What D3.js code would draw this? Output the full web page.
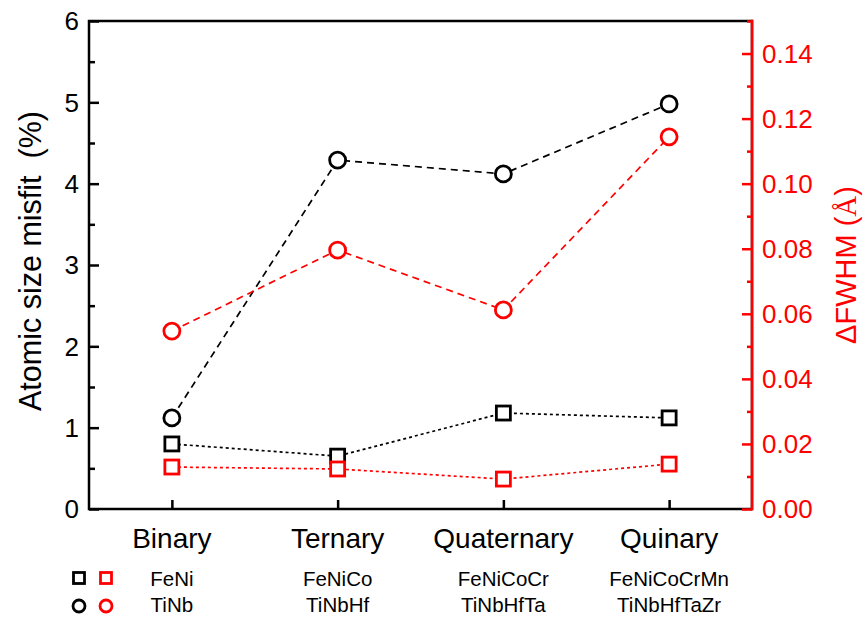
<!DOCTYPE html>
<html>
<head>
<meta charset="utf-8">
<script src="https://cdn.jsdelivr.net/npm/d3@7"></script>
<style>
  body { margin: 0; background: #fff; }
  svg { display: block; font-family: Arial, "Liberation Sans", sans-serif; }
</style>
</head>
<body>
<svg id="chart" width="867" height="619"></svg>
<script>
// Alloy families, from binary to quinary
const categories = ["Binary", "Ternary", "Quaternary", "Quinary"];
const feniAlloys = ["FeNi", "FeNiCo", "FeNiCoCr", "FeNiCoCrMn"];
const tinbAlloys = ["TiNb", "TiNbHf", "TiNbHfTa", "TiNbHfTaZr"];

// Atomic size misfit (%)
const misfitFeNi = [0.80, 0.65, 1.18, 1.12];
const misfitTiNb = [1.12, 4.29, 4.12, 4.98];

// ΔFWHM (Å)
const fwhmFeNi = [0.0129, 0.0123, 0.0092, 0.0138];
const fwhmTiNb = [0.0547, 0.0796, 0.0612, 0.1144];

const leftTicks = [0, 1, 2, 3, 4, 5, 6];
const rightTicks = [0, 0.02, 0.04, 0.06, 0.08, 0.10, 0.12, 0.14];

const RED = "#ff0000";
const svg = d3.select("#chart");
const plot = { left: 89, right: 752, top: 21, bottom: 509 };

const x = d3.scaleLinear().domain([0.5, 4.5]).range([plot.left, plot.right]);
const yL = d3.scaleLinear().domain([0, 6]).range([plot.bottom, plot.top]);
const yR = d3.scaleLinear().domain([0, 0.15]).range([plot.bottom, plot.top]);

// Frame
svg.append("rect")
  .attr("x", plot.left).attr("y", plot.top)
  .attr("width", plot.right - plot.left).attr("height", plot.bottom - plot.top)
  .attr("fill", "none").attr("stroke", "#000").attr("stroke-width", 2.5);

// Left axis: majors every 1, minors every 0.5, ticks pointing inward
const gL = svg.append("g").attr("transform", `translate(${plot.left},0)`);
gL.call(d3.axisRight(yL).tickValues(d3.range(0.5, 6, 1)).tickSize(6).tickFormat(""));
gL.call(g => g.append("g").call(d3.axisRight(yL).tickValues(leftTicks).tickSize(10).tickFormat("")));
gL.selectAll(".domain").remove();
gL.selectAll("line").attr("stroke", "#000").attr("stroke-width", 2.5);
svg.append("g").selectAll("text").data(leftTicks).join("text")
  .attr("x", plot.left - 10).attr("y", d => yL(d)).attr("dy", "0.36em")
  .attr("text-anchor", "end").attr("font-size", 26).attr("fill", "#000")
  .text(d => d);

// Bottom axis: a tick at each category
const gB = svg.append("g").attr("transform", `translate(0,${plot.bottom})`);
gB.call(d3.axisTop(x).tickValues([1, 2, 3, 4]).tickSize(9).tickFormat(""));
gB.selectAll(".domain").remove();
gB.selectAll("line").attr("stroke", "#000").attr("stroke-width", 2.5);

// Right axis (red): majors every 0.02, minors every 0.01
svg.append("line")
  .attr("x1", plot.right).attr("x2", plot.right)
  .attr("y1", plot.top - 1.25).attr("y2", plot.bottom + 1.25)
  .attr("stroke", RED).attr("stroke-width", 2.5);
const gR = svg.append("g").attr("transform", `translate(${plot.right},0)`);
gR.call(d3.axisLeft(yR).tickValues(d3.range(0.01, 0.155, 0.02)).tickSize(5).tickFormat(""));
gR.call(g => g.append("g").call(d3.axisLeft(yR).tickValues(rightTicks).tickSize(10).tickFormat("")));
gR.selectAll(".domain").remove();
gR.selectAll("line").attr("stroke", RED).attr("stroke-width", 2.5);
svg.append("g").selectAll("text").data(rightTicks).join("text")
  .attr("x", plot.right + 10).attr("y", d => yR(d)).attr("dy", "0.36em")
  .attr("text-anchor", "start").attr("font-size", 26).attr("fill", RED)
  .text(d => d3.format(".2f")(d));

// Axis titles
svg.append("text")
  .attr("transform", `translate(41,${(plot.top + plot.bottom) / 2 - 4}) rotate(-90)`)
  .attr("text-anchor", "middle").attr("font-size", 30.5).attr("fill", "#000")
  .attr("xml:space", "preserve")
  .text("Atomic size misfit  (%)");
const rTitle = svg.append("text")
  .attr("transform", `translate(856,${(plot.top + plot.bottom) / 2}) rotate(-90)`)
  .attr("text-anchor", "middle").attr("font-size", 29).attr("fill", RED);
rTitle.append("tspan").text("ΔFWHM (");
rTitle.append("tspan").attr("font-family", "'Liberation Serif', 'DejaVu Serif', serif").text("Å");
rTitle.append("tspan").text(")");

// Category labels and alloy names
const idx = d3.range(categories.length);
svg.append("g").selectAll("text").data(idx).join("text")
  .attr("x", i => x(i + 1)).attr("y", 548)
  .attr("text-anchor", "middle").attr("font-size", 28).attr("fill", "#000")
  .text(i => categories[i]);
svg.append("g").selectAll("text").data(idx).join("text")
  .attr("x", i => x(i + 1)).attr("y", 586)
  .attr("text-anchor", "middle").attr("font-size", 20.5).attr("fill", "#000")
  .text(i => feniAlloys[i]);
svg.append("g").selectAll("text").data(idx).join("text")
  .attr("x", i => x(i + 1)).attr("y", 612)
  .attr("text-anchor", "middle").attr("font-size", 20.5).attr("fill", "#000")
  .text(i => tinbAlloys[i]);

// Series
const series = [
  { values: misfitTiNb, y: yL, color: "#000", shape: "circle", dash: "7,5" },
  { values: fwhmTiNb, y: yR, color: RED, shape: "circle", dash: "7,5" },
  { values: misfitFeNi, y: yL, color: "#000", shape: "square", dash: "3,3" },
  { values: fwhmFeNi, y: yR, color: RED, shape: "square", dash: "3,3" }
];

series.forEach(s => {
  const pts = s.values.map((v, i) => [x(i + 1), s.y(v)]);
  svg.append("path")
    .attr("d", d3.line()(pts))
    .attr("fill", "none").attr("stroke", s.color)
    .attr("stroke-width", 1.7).attr("stroke-dasharray", s.dash);
});

function marker(g, shape, cx, cy, color, size) {
  if (shape === "circle") {
    g.append("circle").attr("cx", cx).attr("cy", cy).attr("r", size / 2)
      .attr("fill", "#fff").attr("stroke", color).attr("stroke-width", 2.8);
  } else {
    g.append("rect").attr("x", cx - size / 2).attr("y", cy - size / 2)
      .attr("width", size).attr("height", size)
      .attr("fill", "#fff").attr("stroke", color).attr("stroke-width", 2.8);
  }
}

const gM = svg.append("g");
series.forEach(s => {
  s.values.forEach((v, i) => {
    marker(gM, s.shape, x(i + 1), s.y(v), s.color, s.shape === "circle" ? 16 : 14);
  });
});

// Legend keys for the two alloy families
const gLeg = svg.append("g");
marker(gLeg, "square", 79, 578, "#000", 11);
marker(gLeg, "square", 106, 578, RED, 11);
marker(gLeg, "circle", 79, 606, "#000", 12);
marker(gLeg, "circle", 106, 606, RED, 12);
</script>
</body>
</html>
